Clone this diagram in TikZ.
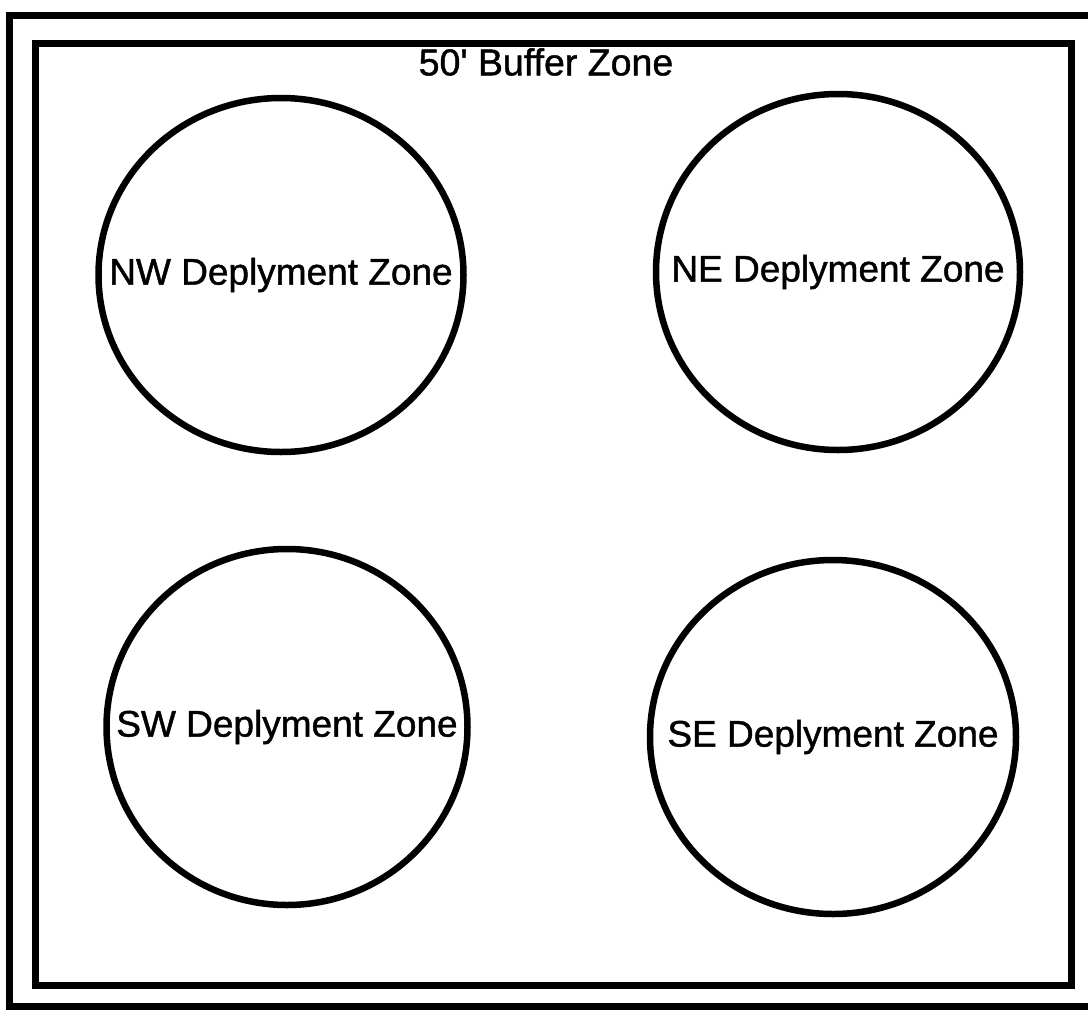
\documentclass[tikz,border=0pt]{standalone}
\usepackage{fontspec}
\setmainfont{Liberation Sans}
\newfontfamily\zonefont[FakeBold=1.2]{Liberation Sans}
\usetikzlibrary{shapes.geometric}

\begin{document}
\begin{tikzpicture}[x=1pt, y=-1pt,
  frame/.style={line width=7pt},
  zone/.style={draw, ellipse, line width=6.5pt, inner sep=0pt,
    label={[font=\zonefont\fontsize{37}{42}\selectfont]center:#1}},
  title/.style={font=\zonefont\fontsize{37.5}{42}\selectfont}]
\useasboundingbox[fill=white] (0,0) rectangle (1088,1013);
% double border
\draw[frame] (9,15.5) rectangle (1092,1006.5);
\draw[frame] (35.5,43) rectangle (1071,985);
\node[title] (buffer) at (546,62) {50\textquotesingle{} Buffer Zone};
% deployment zones, label set in the middle of each ring
\node[zone=NW Deplyment Zone, minimum width=365pt, minimum height=354pt] (nw) at (281,275) {};
\node[zone=NE Deplyment Zone, minimum width=364pt, minimum height=356pt] (ne) at (838,272) {};
\node[zone=SW Deplyment Zone, minimum width=361pt, minimum height=356pt] (sw) at (287,727) {};
\node[zone=SE Deplyment Zone, minimum width=366pt, minimum height=354pt] (se) at (833,737) {};
\end{tikzpicture}
\end{document}
